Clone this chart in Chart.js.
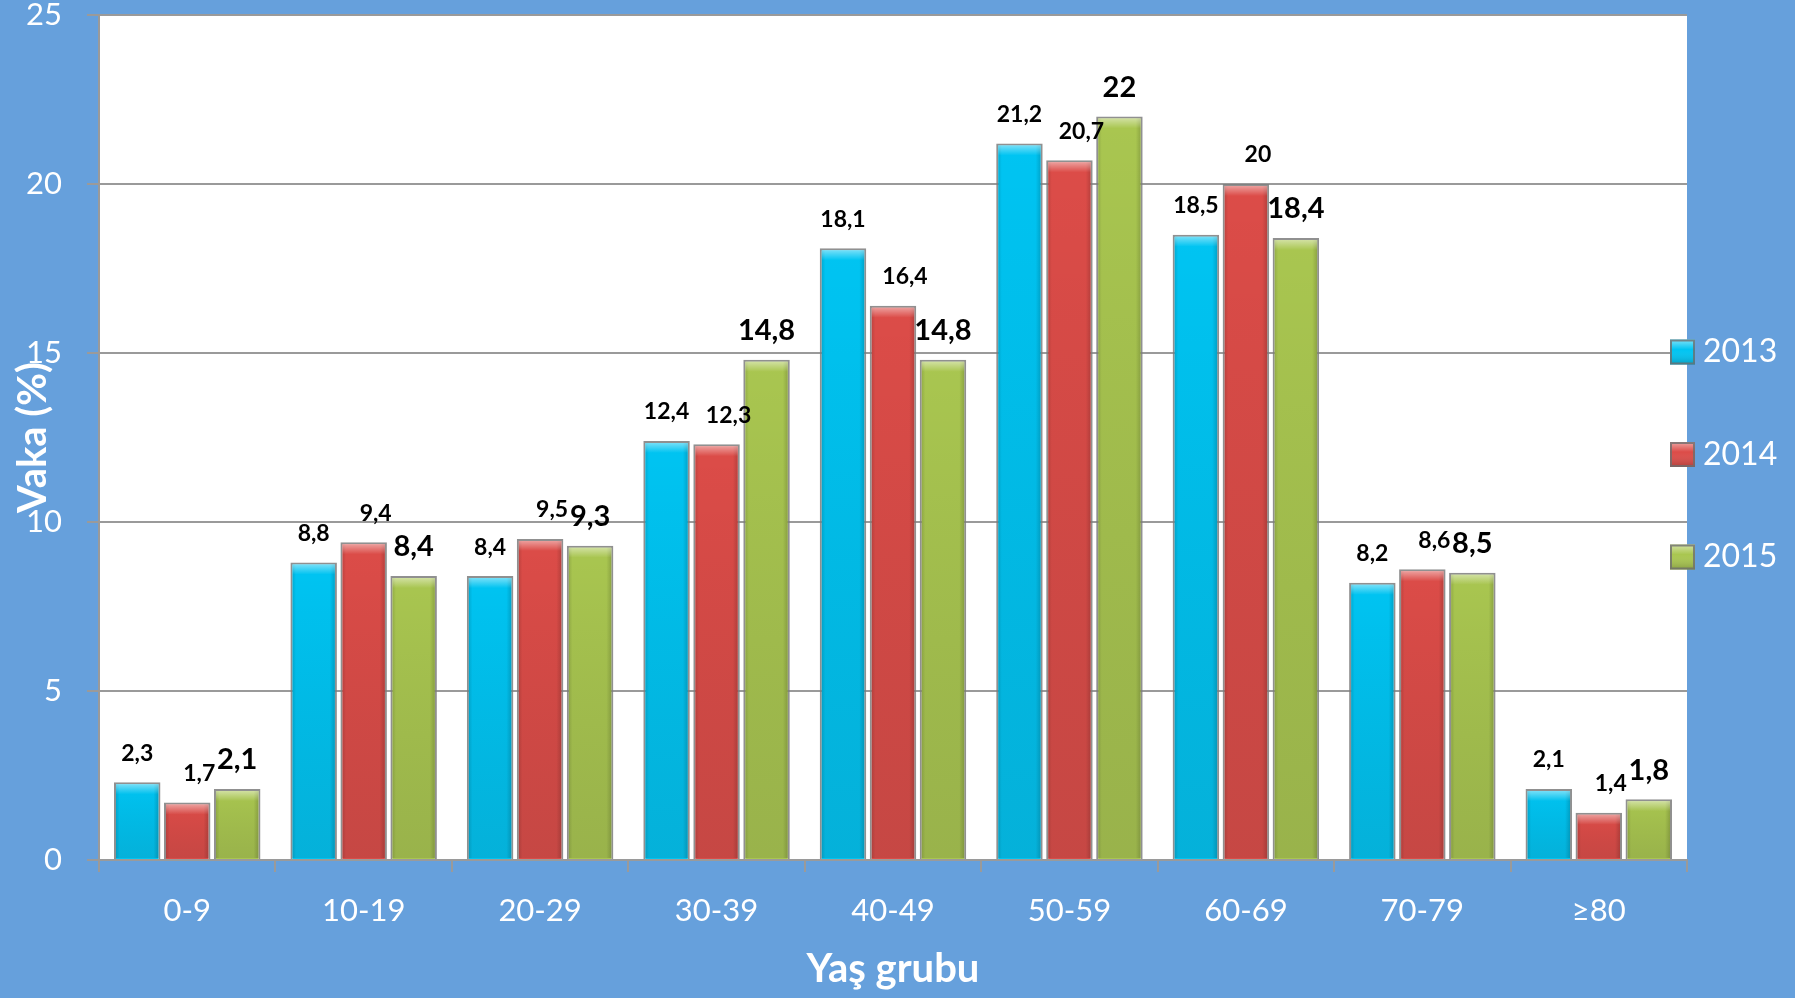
<!DOCTYPE html>
<html lang="tr">
<head>
<meta charset="utf-8">
<title>Yaş grubuna göre vaka dağılımı</title>
<script src="https://cdn.jsdelivr.net/npm/chart.js@4/dist/chart.umd.min.js"></script>
<style>
  html, body { margin: 0; padding: 0; background: #66A0DC; }
  #wrap { width: 1795px; height: 998px; position: relative; }
</style>
</head>
<body>
<div id="wrap"><canvas id="chart"></canvas></div>
<script>
// Age groups and yearly case shares (%)
const ageGroups = ['0-9', '10-19', '20-29', '30-39', '40-49', '50-59', '60-69', '70-79', '≥80'];
const years = ['2013', '2014', '2015'];
const cases2013 = [2.3, 8.8, 8.4, 12.4, 18.1, 21.2, 18.5, 8.2, 2.1];
const cases2014 = [1.7, 9.4, 9.5, 12.3, 16.4, 20.7, 20, 8.6, 1.4];
const cases2015 = [2.1, 8.4, 9.3, 14.8, 14.8, 22, 18.4, 8.5, 1.8];
const yTicks = [0, 5, 10, 15, 20, 25];

const FONT = 'Lato, "Open Sans", sans-serif';
const barColors = ['#00C4F2', '#DC4C48', '#A9C650'];
const labelFonts = ['bold 23px ' + FONT, 'bold 23px ' + FONT, 'bold 29px ' + FONT];
const labelShiftX = [0, 12, 0];

// white plot area on the blue page
const plotBackground = {
  id: 'plotBackground',
  beforeDraw(chart) {
    const { ctx, chartArea: a } = chart;
    ctx.save();
    ctx.fillStyle = '#ffffff';
    ctx.fillRect(a.left, a.top, a.right - a.left, a.bottom - a.top);
    ctx.restore();
  }
};

// glossy bevel on each bar
const barBevel = {
  id: 'barBevel',
  afterDatasetsDraw(chart) {
    const ctx = chart.ctx;
    chart.data.datasets.forEach((ds, di) => {
      chart.getDatasetMeta(di).data.forEach(bar => {
        const l = bar.x - bar.width / 2, r = bar.x + bar.width / 2;
        const t = bar.y, b = bar.base;
        const h = b - t;
        ctx.save();
        ctx.beginPath();
        ctx.rect(l + 2, t + 2, r - l - 4, h - 3);
        ctx.clip();
        // darker sides
        const side = ctx.createLinearGradient(l, 0, r, 0);
        side.addColorStop(0, 'rgba(0,0,0,0.18)');
        side.addColorStop(0.12, 'rgba(0,0,0,0.0)');
        side.addColorStop(0.85, 'rgba(0,0,0,0.0)');
        side.addColorStop(1, 'rgba(0,0,0,0.22)');
        ctx.fillStyle = side;
        ctx.fillRect(l, t, r - l, h);
        // bottom darkening
        const vert = ctx.createLinearGradient(0, t, 0, b);
        vert.addColorStop(0, 'rgba(0,0,0,0)');
        vert.addColorStop(1, 'rgba(40,40,40,0.12)');
        ctx.fillStyle = vert;
        ctx.fillRect(l, t, r - l, h);
        // top highlight
        const hl = Math.min(12, h);
        const top = ctx.createLinearGradient(0, t, 0, t + hl);
        top.addColorStop(0, 'rgba(255,255,255,0.55)');
        top.addColorStop(1, 'rgba(255,255,255,0)');
        ctx.fillStyle = top;
        ctx.fillRect(l, t, r - l, hl);
        ctx.restore();
      });
    });
  }
};

// value labels above the bars
const valueLabels = {
  id: 'valueLabels',
  afterDatasetsDraw(chart) {
    const ctx = chart.ctx;
    ctx.save();
    ctx.fillStyle = '#000000';
    ctx.textAlign = 'center';
    ctx.textBaseline = 'middle';
    chart.data.datasets.forEach((ds, di) => {
      ctx.font = labelFonts[di];
      chart.getDatasetMeta(di).data.forEach((bar, i) => {
        const txt = String(ds.data[i]).replace('.', ',');
        ctx.fillText(txt, bar.x + labelShiftX[di], bar.y - 29);
      });
    });
    ctx.restore();
  }
};

// legend at the right edge of the plot
const sideLegend = {
  id: 'sideLegend',
  afterDraw(chart) {
    const ctx = chart.ctx;
    const a = chart.chartArea;
    const box = 25, startY = 352, step = 102.5;
    ctx.save();
    chart.data.datasets.forEach((ds, i) => {
      const cy = startY + i * step;
      const x = a.right - 17, y = cy - box / 2;
      ctx.fillStyle = ds.backgroundColor;
      ctx.fillRect(x, y, box, box);
      const g = ctx.createLinearGradient(0, y, 0, y + box);
      g.addColorStop(0, 'rgba(255,255,255,0.5)');
      g.addColorStop(0.4, 'rgba(255,255,255,0)');
      g.addColorStop(1, 'rgba(0,0,0,0.2)');
      ctx.fillStyle = g;
      ctx.fillRect(x, y, box, box);
      ctx.strokeStyle = 'rgba(110,110,110,0.8)';
      ctx.lineWidth = 2;
      ctx.strokeRect(x + 1, y + 1, box - 2, box - 2);
      ctx.fillStyle = '#ffffff';
      ctx.font = '32px ' + FONT;
      ctx.textAlign = 'left';
      ctx.textBaseline = 'middle';
      ctx.fillText(ds.label, a.right + 16, cy);
    });
    ctx.restore();
  }
};

const seriesValues = [cases2013, cases2014, cases2015];

new Chart(document.getElementById('chart'), {
  type: 'bar',
  data: {
    labels: ageGroups,
    datasets: years.map((y, i) => ({
      label: y,
      data: seriesValues[i],
      backgroundColor: barColors[i],
      borderColor: 'rgba(125,125,125,0.85)',
      borderWidth: 2,
      borderSkipped: 'bottom',
      categoryPercentage: 0.85,
      barPercentage: 0.93
    }))
  },
  options: {
    responsive: true,
    maintainAspectRatio: false,
    animation: false,
    devicePixelRatio: 1,
    layout: { padding: { top: 15, right: 108, bottom: 0, left: 0 } },
    plugins: {
      legend: { display: false },
      tooltip: { enabled: false }
    },
    scales: {
      x: {
        afterFit(axis) {
          axis.height = 138;
          axis.paddingTop = 0;
          axis.paddingBottom = 0;
        },
        grid: {
          offset: true,
          drawOnChartArea: false,
          drawTicks: true,
          tickLength: 12,
          color: '#9a9a9a',
          lineWidth: 2
        },
        border: { color: '#9a9a9a', width: 2 },
        ticks: {
          color: '#ffffff',
          font: { family: FONT, size: 31 },
          padding: 20,
          maxRotation: 0
        },
        title: {
          display: true,
          text: 'Yaş grubu',
          color: '#ffffff',
          font: { family: FONT, size: 40, weight: 'bold' },
          padding: { top: 0, bottom: 5 }
        }
      },
      y: {
        min: 0,
        max: 25,
        afterFit(axis) {
          axis.width = 99;
          axis.paddingTop = 0;
          axis.paddingBottom = 0;
        },
        afterBuildTicks(axis) { axis.ticks = yTicks.map(v => ({ value: v })); },
        grid: {
          color: '#9a9a9a',
          lineWidth: 2,
          tickLength: 12
        },
        border: { color: '#9a9a9a', width: 2 },
        ticks: {
          color: '#ffffff',
          font: { family: FONT, size: 31, lineHeight: 1 },
          padding: 25
        },
        title: {
          display: true,
          text: 'Vaka (%)',
          color: '#ffffff',
          font: { family: FONT, size: 40, weight: 'bold' },
          padding: { top: 9, bottom: 0 }
        }
      }
    }
  },
  plugins: [plotBackground, barBevel, valueLabels, sideLegend]
});
</script>
</body>
</html>
